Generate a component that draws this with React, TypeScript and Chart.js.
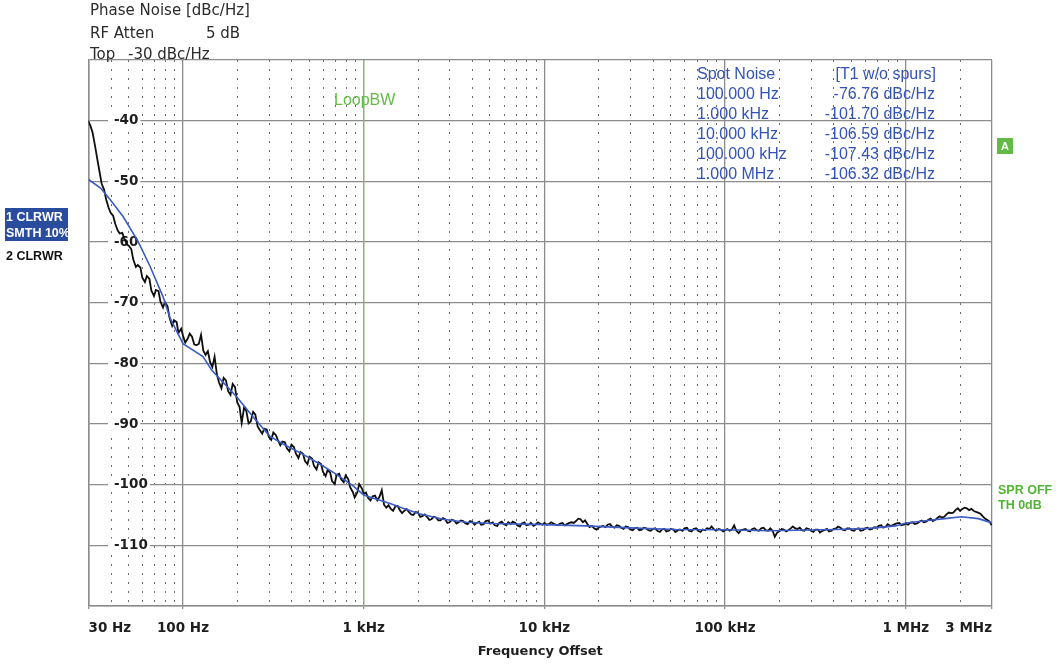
import React, { useEffect, useRef } from 'react';
import { Chart, registerables } from 'chart.js';

Chart.register(...registerables);

// Analyzer log sweep: 80 points per decade, given as two interleaved mantissa tables
const SWEEP_MANTISSA = [
  1.0, 1.059, 1.122, 1.189, 1.259, 1.334, 1.413, 1.496, 1.585, 1.679,
  1.778, 1.884, 1.995, 2.113, 2.239, 2.371, 2.512, 2.661, 2.818, 2.985,
  3.162, 3.35, 3.548, 3.758, 3.981, 4.217, 4.467, 4.732, 5.012, 5.309,
  5.623, 5.957, 6.31, 6.683, 7.079, 7.499, 7.943, 8.414, 8.913, 9.441,
];
const SWEEP_MANTISSA_MID = [
  1.029, 1.09, 1.155, 1.223, 1.296, 1.373, 1.454, 1.54, 1.632, 1.729,
  1.832, 1.941, 2.056, 2.178, 2.307, 2.445, 2.59, 2.744, 2.907, 3.08,
  3.263, 3.457, 3.662, 3.88, 4.11, 4.355, 4.613, 4.887, 5.178, 5.485,
  5.811, 6.156, 6.522, 6.91, 7.32, 7.755, 8.216, 8.704, 9.221, 9.768,
];

// Trace 2 (black, CLRWR) in dBc/Hz, per decade, on the SWEEP_MANTISSA points
const BLACK_10HZ = [
  -40.0, -42.0, -46.2, -50.4, -53.0, -55.2, -57.0, -58.6, -59.4, -60.6,
  -62.9, -63.8, -65.9, -65.6, -68.0, -67.9, -69.8, -69.9, -72.4, -72.9, -75.0,
];
const BLACK_100HZ = [
  -75.4, -76.0, -75.6, -77.0, -75.3, -78.6, -79.8, -78.9, -83.2, -82.4,
  -84.6, -83.4, -86.4, -89.8, -87.8, -89.6, -88.4, -91.0, -90.8, -92.1,
  -91.4, -92.6, -92.9, -94.0, -93.4, -94.9, -94.6, -96.1, -95.4, -96.9,
  -96.3, -97.9, -97.6, -99.4, -98.4, -99.1, -98.5, -100.4, -102.1, -99.9,
];
const BLACK_1KHZ = [
  -101.5, -102.2, -101.9, -102.6, -100.9, -103.8, -104.0, -103.6, -104.2, -104.3,
  -104.5, -105.0, -104.6, -105.2, -105.3, -105.7, -105.4, -105.9, -105.7, -106.2,
  -105.9, -106.2, -106.0, -106.5, -106.1, -106.3, -106.6, -106.0, -106.4, -106.7,
  -106.3, -106.5, -106.2, -106.1, -106.7, -106.4, -106.7, -106.3, -106.6, -106.4,
];
const BLACK_10KHZ = [
  -106.3, -106.5, -106.4, -106.7, -106.3, -106.5, -106.2, -106.0, -105.7, -105.9,
  -107.0, -107.2, -107.1, -106.8, -106.6, -106.9, -106.7, -107.1, -106.9, -107.4,
  -107.2, -107.5, -107.1, -107.5, -107.3, -107.6, -107.4, -107.7, -107.3, -107.8,
  -107.4, -107.2, -107.6, -107.3, -107.6, -107.4, -107.2, -106.9, -107.6, -107.4,
];
const BLACK_100KHZ = [
  -107.5, -107.6, -106.7, -108.0, -107.4, -107.6, -107.3, -107.5, -107.2, -107.5,
  -107.2, -108.6, -107.7, -107.4, -107.5, -106.9, -107.3, -107.5, -107.2, -107.6,
  -107.4, -107.9, -107.5, -107.7, -107.3, -106.9, -107.4, -107.2, -107.5, -107.3,
  -107.6, -107.2, -107.4, -107.0, -106.8, -107.1, -106.5, -106.7, -106.4, -106.7,
];
const BLACK_1MHZ = [
  -106.4, -106.3, -106.5, -106.1, -106.2, -105.8, -106.0, -105.5, -105.4, -104.9,
  -104.7, -104.2, -104.3, -103.8, -104.2, -104.3, -104.6, -105.2, -105.8, -106.7,
];

// Trace 2 on the SWEEP_MANTISSA_MID points
const BLACK_10HZ_MID = [
  -40.9, -44.2, -48.5, -51.4, -54.4, -55.7, -58.1, -58.5, -60.4, -61.2,
  -64.1, -64.2, -66.6, -66.1, -68.9, -68.1, -70.8, -70.6, -73.8, -73.2, -74.3,
];
const BLACK_100HZ_MID = [
  -76.6, -75.1, -76.9, -76.8, -77.9, -78.0, -80.6, -81.8, -84.1, -82.8,
  -85.2, -83.9, -87.2, -87.3, -89.9, -88.0, -90.4, -91.6, -90.9, -92.6,
  -91.8, -93.5, -93.0, -94.5, -93.8, -95.6, -94.9, -96.6, -95.7, -97.5,
  -96.6, -98.6, -98.0, -99.9, -98.2, -99.6, -99.1, -101.2, -101.3, -100.6,
];
const BLACK_1KHZ_MID = [
  -101.3, -102.6, -101.8, -102.0, -103.3, -103.4, -104.3, -103.5, -104.7, -104.0,
  -104.9, -104.5, -105.3, -104.9, -105.8, -105.3, -105.9, -105.5, -106.3, -105.8,
  -106.4, -105.9, -106.4, -106.0, -106.6, -106.1, -106.5, -105.9, -106.2, -106.8,
  -106.1, -106.7, -106.5, -106.3, -106.9, -106.2, -106.6, -106.8, -106.2, -106.6,
];
const BLACK_10KHZ_MID = [
  -106.6, -106.2, -106.6, -106.4, -106.7, -106.3, -106.3, -105.6, -106.2, -106.5,
  -106.8, -107.4, -106.9, -107.0, -106.5, -107.1, -106.8, -107.3, -107.0, -107.5,
  -107.1, -107.4, -107.2, -107.6, -107.2, -107.8, -107.3, -107.6, -107.4, -107.5,
  -107.6, -107.1, -107.7, -107.2, -107.8, -107.5, -107.3, -107.4, -107.3, -107.7,
];
const BLACK_100KHZ_MID = [
  -107.3, -107.4, -107.6, -107.5, -107.3, -107.7, -107.2, -107.6, -107.1, -107.6,
  -107.6, -107.9, -107.3, -107.7, -107.2, -107.2, -107.1, -107.6, -107.3, -107.8,
  -107.4, -107.6, -107.3, -107.6, -107.2, -107.1, -107.5, -107.2, -107.6, -107.2,
  -107.5, -107.1, -107.3, -107.1, -106.7, -106.9, -106.8, -106.5, -106.3, -106.6,
];
const BLACK_1MHZ_MID = [
  -106.6, -106.2, -106.4, -105.9, -106.1, -105.6, -105.8, -105.2, -105.3, -104.6,
  -104.6, -103.9, -104.0, -103.9, -104.0, -104.5, -104.8, -105.6, -106.1,
];

// Trace 1 (blue, CLRWR, SMTH 10%)
const BLUE_FREQ = [
  30, 35, 39.5, 46.6, 56.4, 65.7, 77.5, 85, 100, 129, 144, 198, 244, 302, 358, 462, 571, 707, 874,
  1000, 1180, 1400, 1580, 2030, 2750, 3700, 5190, 10000, 16900, 23900, 35000, 53300,
  100000, 175000, 410000, 625000, 880000, 1000000, 1320000, 1640000, 2030000, 2520000, 3000000,
];
const BLUE_DB = [
  -49.7, -51.1, -53.0, -55.8, -59.9, -64.0, -69.0, -72.6, -76.76, -78.9, -81.1, -85.5, -88.8, -92.0, -93.3, -95.0, -96.6, -98.3, -100.2,
  -101.7, -102.4, -103.1, -103.7, -104.8, -105.7, -106.2, -106.4, -106.59, -106.8, -107.0, -107.2, -107.4,
  -107.43, -107.6, -107.4, -107.2, -106.8, -106.32, -105.9, -105.6, -105.3, -105.6, -106.3,
];

const LOOP_BW_HZ = 1000;
const GRID_MANTISSA = [1, 2, 3, 4, 5, 6, 7, 8, 9];
const X_LABEL_FREQ = [30, 100, 1000, 10000, 100000, 1000000, 3000000];
const X_LABEL_TEXT = ['30 Hz', '100 Hz', '1 kHz', '10 kHz', '100 kHz', '1 MHz', '3 MHz'];
const Y_MIN = -120;
const Y_MAX = -30;
const Y_STEP = 10;

const HEADER_TITLE = 'Phase Noise [dBc/Hz]';
const HEADER_ATTEN = ['RF Atten', '5 dB'];
const HEADER_TOP = ['Top', '-30 dBc/Hz'];
const SPOT_HEADER = ['Spot Noise', '[T1 w/o spurs]'];
const SPOT_FREQ = ['100.000 Hz', '1.000 kHz', '10.000 kHz', '100.000 kHz', '1.000 MHz'];
const SPOT_VALUE = ['-76.76 dBc/Hz', '-101.70 dBc/Hz', '-106.59 dBc/Hz', '-107.43 dBc/Hz', '-106.32 dBc/Hz'];
const TRACE1_LABEL = ['1 CLRWR', 'SMTH 10%'];
const TRACE2_LABEL = '2 CLRWR';
const RIGHT_LABEL = ['SPR OFF', 'TH 0dB'];
const MARKER_A = 'A';
const LOOP_LABEL = 'LoopBW';
const X_TITLE = 'Frequency Offset';

const sweep = (table: number[], decade: number, from: number, to: number) =>
  table.slice(from, to).map((m) => m * decade);

const BLACK_POINTS = [
  { f: sweep(SWEEP_MANTISSA, 10, 19, 40), v: BLACK_10HZ },
  { f: sweep(SWEEP_MANTISSA, 100, 0, 40), v: BLACK_100HZ },
  { f: sweep(SWEEP_MANTISSA, 1000, 0, 40), v: BLACK_1KHZ },
  { f: sweep(SWEEP_MANTISSA, 10000, 0, 40), v: BLACK_10KHZ },
  { f: sweep(SWEEP_MANTISSA, 100000, 0, 40), v: BLACK_100KHZ },
  { f: sweep(SWEEP_MANTISSA, 1000000, 0, 20), v: BLACK_1MHZ },
  { f: sweep(SWEEP_MANTISSA_MID, 10, 19, 40), v: BLACK_10HZ_MID },
  { f: sweep(SWEEP_MANTISSA_MID, 100, 0, 40), v: BLACK_100HZ_MID },
  { f: sweep(SWEEP_MANTISSA_MID, 1000, 0, 40), v: BLACK_1KHZ_MID },
  { f: sweep(SWEEP_MANTISSA_MID, 10000, 0, 40), v: BLACK_10KHZ_MID },
  { f: sweep(SWEEP_MANTISSA_MID, 100000, 0, 40), v: BLACK_100KHZ_MID },
  { f: sweep(SWEEP_MANTISSA_MID, 1000000, 0, 19), v: BLACK_1MHZ_MID },
]
  .flatMap((g) => g.f.map((f, i) => ({ x: f, y: g.v[i] })))
  .filter((p) => p.y !== undefined)
  .sort((a, b) => a.x - b.x);

const X_GRID = [
  ...GRID_MANTISSA.slice(2).map((m) => m * 10),
  ...[100, 1000, 10000, 100000].flatMap((d) => GRID_MANTISSA.map((m) => m * d)),
  1000000, 2000000, 3000000,
];

const isMajorX = (v: number) => X_LABEL_FREQ.indexOf(v) >= 0;

const GRID_SOLID = '#8c8c8c';
const GRID_DOT = '#6a6a6a';
const BLUE = '#3a5cc4';
const GREEN = '#62bb46';
const SPOT_BLUE = '#3454b4';

const overlayPlugin = {
  id: 'overlay',
  afterDraw(chart: any) {
    const ctx = chart.ctx as CanvasRenderingContext2D;
    const xs = chart.scales.x;
    const area = chart.chartArea;
    ctx.save();
    ctx.textAlign = 'left';
    ctx.textBaseline = 'alphabetic';

    // header
    ctx.fillStyle = '#2b2b2b';
    ctx.font = '15px "DejaVu Sans"';
    ctx.fillText(HEADER_TITLE, 90, 15);
    ctx.fillText(HEADER_ATTEN[0], 90, 38);
    ctx.fillText(HEADER_ATTEN[1], 206, 38);
    ctx.fillText(HEADER_TOP[0], 90, 59);
    ctx.fillText(HEADER_TOP[1], 128, 59);

    // spot noise table
    ctx.fillStyle = SPOT_BLUE;
    ctx.font = '16px "Liberation Sans"';
    ctx.fillText(SPOT_HEADER[0], 697, 79);
    ctx.textAlign = 'right';
    ctx.fillText(SPOT_HEADER[1], 936, 79);
    for (let i = 0; i < SPOT_FREQ.length; i++) {
      ctx.textAlign = 'left';
      ctx.fillText(SPOT_FREQ[i], 697, 99 + i * 20);
      ctx.textAlign = 'right';
      ctx.fillText(SPOT_VALUE[i], 935, 99 + i * 20);
    }

    // loop bandwidth label
    ctx.textAlign = 'center';
    ctx.fillStyle = GREEN;
    ctx.font = '16px "Liberation Sans"';
    ctx.fillText(LOOP_LABEL, xs.getPixelForValue(LOOP_BW_HZ) + 1, 105);

    // trace labels (left)
    ctx.fillStyle = '#2a4c9f';
    ctx.fillRect(5, 208, 63, 33);
    ctx.save();
    ctx.beginPath();
    ctx.rect(5, 208, 63, 33);
    ctx.clip();
    ctx.fillStyle = '#ffffff';
    ctx.textAlign = 'left';
    ctx.font = 'bold 12.5px "Liberation Sans"';
    ctx.fillText(TRACE1_LABEL[0], 6, 221);
    ctx.fillText(TRACE1_LABEL[1], 6, 237);
    ctx.restore();
    ctx.fillStyle = '#111111';
    ctx.textAlign = 'left';
    ctx.font = 'bold 12.5px "Liberation Sans"';
    ctx.fillText(TRACE2_LABEL, 6, 260);

    // right side labels
    const rx = area.right + 6;
    ctx.fillStyle = GREEN;
    ctx.fillRect(rx - 1, 138, 16, 16);
    ctx.fillStyle = '#ffffff';
    ctx.textAlign = 'center';
    ctx.font = 'bold 11px "Liberation Sans"';
    ctx.fillText(MARKER_A, rx + 7, 150);
    ctx.fillStyle = '#52b436';
    ctx.textAlign = 'left';
    ctx.font = 'bold 12.5px "Liberation Sans"';
    ctx.fillText(RIGHT_LABEL[0], rx, 494);
    ctx.fillText(RIGHT_LABEL[1], rx, 509);
    ctx.restore();
  },
};

export default function App() {
  const canvasRef = useRef<HTMLCanvasElement | null>(null);

  useEffect(() => {
    document.body.style.margin = '0';
    const canvas = canvasRef.current;
    if (!canvas) return;

    const chart = new Chart(canvas, {
      type: 'line',
      data: {
        datasets: [
          {
            label: 'Trace 1',
            data: BLUE_FREQ.map((f, i) => ({ x: f, y: BLUE_DB[i] })),
            borderColor: BLUE,
            borderWidth: 1.6,
            pointRadius: 0,
            tension: 0,
            fill: false,
          },
          {
            label: 'Trace 2',
            data: BLACK_POINTS,
            borderColor: '#0e0e0e',
            borderWidth: 1.8,
            pointRadius: 0,
            tension: 0,
            fill: false,
          },
          {
            label: 'LoopBW',
            data: [
              { x: LOOP_BW_HZ, y: Y_MIN },
              { x: LOOP_BW_HZ, y: Y_MAX },
            ],
            borderColor: '#7cc760',
            borderWidth: 1.2,
            pointRadius: 0,
            fill: false,
          },
        ],
      },
      options: {
        responsive: true,
        maintainAspectRatio: false,
        animation: false,
        events: [],
        layout: { padding: { left: 37.5, top: 60, right: 67, bottom: 0 } },
        plugins: {
          legend: { display: false },
          tooltip: { enabled: false },
        },
        scales: {
          x: {
            type: 'logarithmic',
            min: 30,
            max: 3000000,
            afterBuildTicks: (axis: any) => {
              axis.ticks = X_GRID.map((v) => ({ value: v }));
            },
            grid: {
              color: (c: any) => (c.tick && isMajorX(c.tick.value) ? GRID_SOLID : GRID_DOT),
              lineWidth: (c: any) => (c.tick && isMajorX(c.tick.value) ? 1.3 : 1),
              drawTicks: true,
              tickLength: 3,
              tickColor: (c: any) => (c.tick && isMajorX(c.tick.value) ? GRID_SOLID : 'rgba(0,0,0,0)'),
              tickWidth: 1.3,
            },
            border: {
              display: true,
              color: GRID_SOLID,
              width: 1.5,
              dash: (c: any) => (c.tick && !isMajorX(c.tick.value) ? [2, 7] : []),
            },
            ticks: {
              autoSkip: false,
              maxRotation: 0,
              minRotation: 0,
              align: 'inner',
              padding: 11.6,
              color: '#1e1e1e',
              font: { family: '"DejaVu Sans"', size: 13.5, weight: 'bold' },
              callback: (value: any) => {
                const i = X_LABEL_FREQ.indexOf(Number(value));
                return i >= 0 ? X_LABEL_TEXT[i] : '';
              },
            },
            title: {
              display: true,
              text: X_TITLE,
              color: '#1e1e1e',
              font: { family: '"DejaVu Sans"', size: 13, weight: 'bold' },
              padding: { top: -5, bottom: 5 },
            },
          },
          y: {
            type: 'linear',
            min: Y_MIN,
            max: Y_MAX,
            grid: {
              color: GRID_SOLID,
              lineWidth: 1.3,
              drawTicks: false,
            },
            border: { display: true, color: GRID_SOLID, width: 1.5 },
            ticks: {
              stepSize: Y_STEP,
              mirror: true,
              padding: 25.5,
              color: '#1e1e1e',
              font: { family: '"DejaVu Sans"', size: 13.5, weight: 'bold', lineHeight: 1 },
              showLabelBackdrop: (c: any) => !!c.tick && c.tick.value > Y_MIN && c.tick.value < Y_MAX,
              backdropColor: '#ffffff',
              backdropPadding: { left: 6, right: 2, top: 0, bottom: 0 },
              callback: (value: any) => {
                const v = Number(value);
                return v === Y_MIN || v === Y_MAX ? '' : String(v);
              },
            },
          },
        },
      } as any,
      plugins: [overlayPlugin],
    });

    return () => chart.destroy();
  }, []);

  return (
    <div style={{ position: 'relative', width: 1059, height: 664, background: '#ffffff' }}>
      <canvas ref={canvasRef} />
    </div>
  );
}
